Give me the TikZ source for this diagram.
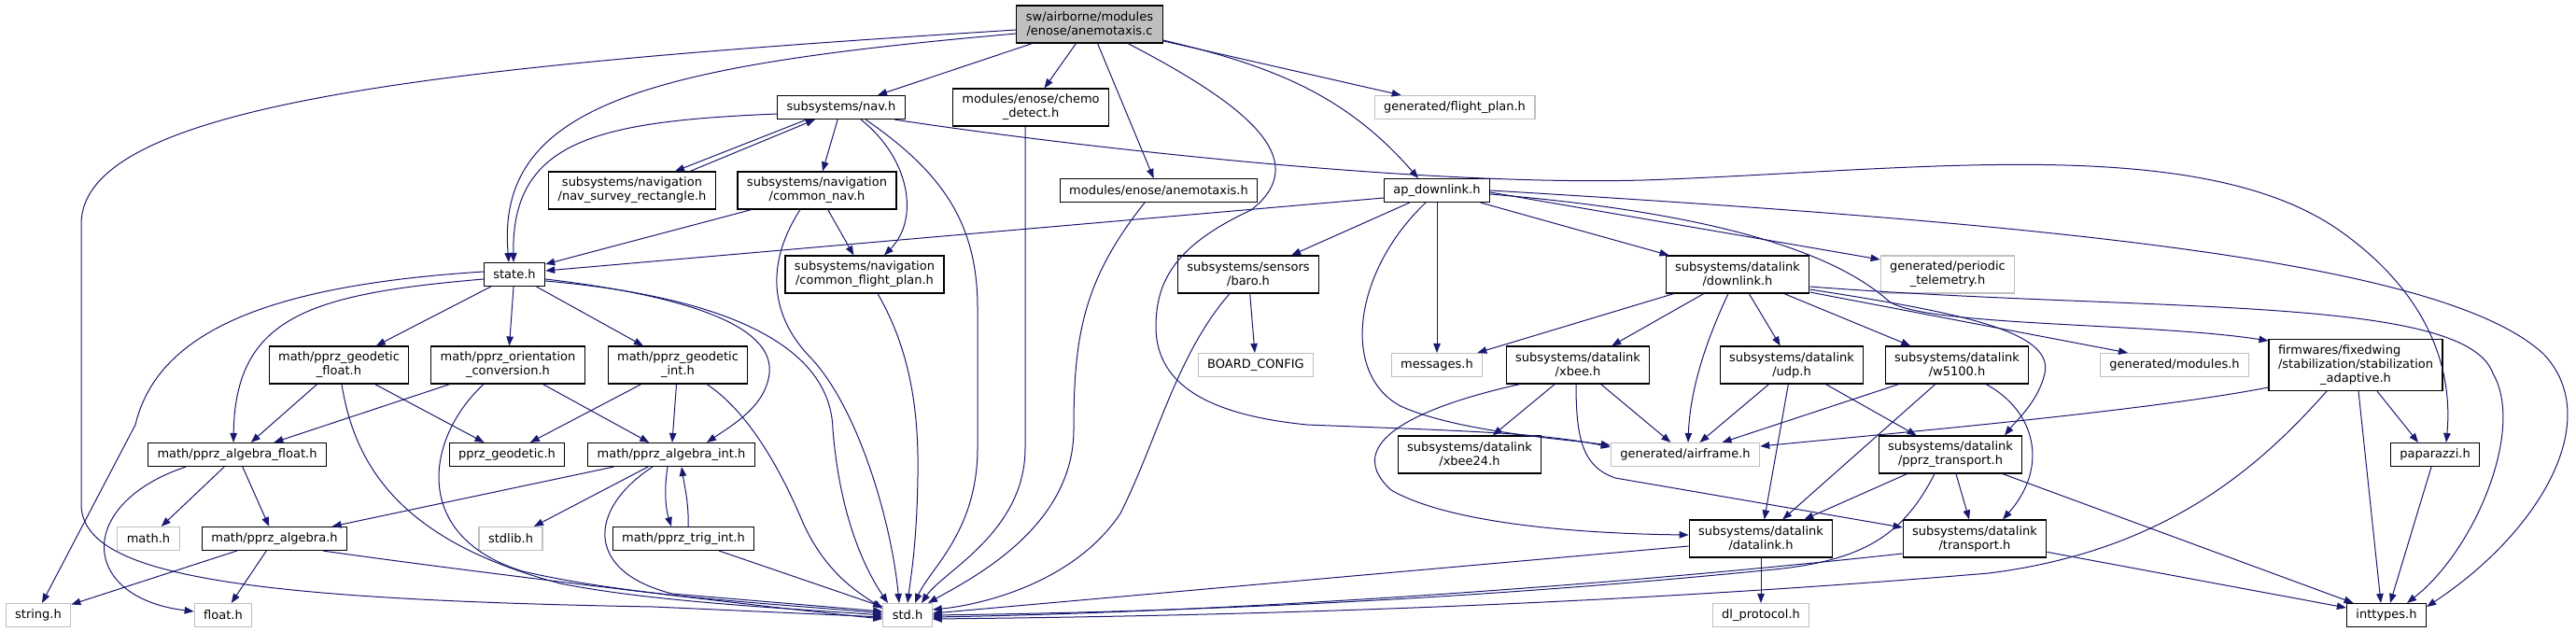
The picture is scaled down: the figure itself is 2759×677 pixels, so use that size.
\documentclass[tikz,border=0pt]{standalone}
\usepackage{fontspec}
\setmainfont{DejaVu Sans}
\usetikzlibrary{arrows.meta}
\definecolor{IncBlue}{RGB}{25,25,112}
\definecolor{IncGray}{RGB}{191,191,191}
\tikzset{
  inc/box/.style={
    draw=black,
    line width=1.1pt,
    fill=white,
    align=center,
    text=black,
    minimum height=25pt,
    inner xsep=10pt,
    inner ysep=2pt,
    font=\fontsize{13}{15}\selectfont
  },
  inc/two/.style={minimum height=40pt},
  inc/three/.style={minimum height=55pt},
  inc/ext/.style={inc/box, draw=IncGray},
  inc/root/.style={inc/box, fill=IncGray},
  inc/arrow/.style={-{Triangle[length=10pt,width=7.5pt]}, line width=1pt, draw=IncBlue}
}

\begin{document}
\begin{tikzpicture}[x=1pt,y=-1pt]
  \useasboundingbox (0,0) rectangle (2759,677);
  \node[inc/root,inc/two] (root) at (1167,26) {sw/airborne/modules\\/enose/anemotaxis.c};
  \node[inc/box] (nav) at (901,115) {subsystems/nav.h};
  \node[inc/box,inc/two] (chemo) at (1104,115) {modules/enose/chemo\\\_detect.h};
  \node[inc/ext] (flightplan) at (1558,115) {generated/flight\_plan.h};
  \node[inc/box,inc/two] (survey) at (677,204) {subsystems/navigation\\/nav\_survey\_rectangle.h};
  \node[inc/box,inc/two] (cnav) at (875,204) {subsystems/navigation\\/common\_nav.h};
  \node[inc/box] (anemh) at (1241,204) {modules/enose/anemotaxis.h};
  \node[inc/box] (apdl) at (1539,204) {ap\_downlink.h};
  \node[inc/box] (state) at (551,294) {state.h};
  \node[inc/box,inc/two] (cfp) at (926,294) {subsystems/navigation\\/common\_flight\_plan.h};
  \node[inc/box,inc/two] (baro) at (1337,294) {subsystems/sensors\\/baro.h};
  \node[inc/box,inc/two] (downlink) at (1861,294) {subsystems/datalink\\/downlink.h};
  \node[inc/ext,inc/two] (periodic) at (2086,294) {generated/periodic\\\_telemetry.h};
  \node[inc/box,inc/two] (geofloat) at (363,391) {math/pprz\_geodetic\\\_float.h};
  \node[inc/box,inc/two] (orient) at (544,391) {math/pprz\_orientation\\\_conversion.h};
  \node[inc/box,inc/two] (geoint) at (726,391) {math/pprz\_geodetic\\\_int.h};
  \node[inc/ext] (boardcfg) at (1345,391) {BOARD\_CONFIG};
  \node[inc/ext] (messages) at (1539,391) {messages.h};
  \node[inc/box,inc/two] (xbee) at (1690,391) {subsystems/datalink\\/xbee.h};
  \node[inc/box,inc/two] (udp) at (1919,391) {subsystems/datalink\\/udp.h};
  \node[inc/box,inc/two] (wiznet) at (2096,391) {subsystems/datalink\\/w5100.h};
  \node[inc/ext] (modules) at (2329,391) {generated/modules.h};
  \node[inc/box,inc/three] (stab) at (2523,391) {\rlap{firmwares/fixedwing}\phantom{/stabilization/stabilization}\\/stabilization/stabilization\\\_adaptive.h};
  \node[inc/box] (algfloat) at (254,487) {math/pprz\_algebra\_float.h};
  \node[inc/box] (geodetic) at (543,487) {pprz\_geodetic.h};
  \node[inc/box] (algint) at (719,487) {math/pprz\_algebra\_int.h};
  \node[inc/box,inc/two] (xbeetwo) at (1574,487) {subsystems/datalink\\/xbee24.h};
  \node[inc/ext] (airframe) at (1805,487) {generated/airframe.h};
  \node[inc/box,inc/two] (pprztp) at (2089,487) {subsystems/datalink\\/pprz\_transport.h};
  \node[inc/box] (paparazzi) at (2608,487) {paparazzi.h};
  \node[inc/ext] (mathh) at (159,577) {math.h};
  \node[inc/box] (algebra) at (294,577) {math/pprz\_algebra.h};
  \node[inc/ext] (stdlib) at (547,577) {stdlib.h};
  \node[inc/box] (trig) at (732,577) {math/pprz\_trig\_int.h};
  \node[inc/box,inc/two] (datalink) at (1886,577) {subsystems/datalink\\/datalink.h};
  \node[inc/box,inc/two] (transport) at (2115,577) {subsystems/datalink\\/transport.h};
  \node[inc/ext] (stringh) at (41,659) {string.h};
  \node[inc/ext] (floath) at (239,659) {float.h};
  \node[inc/ext] (stdh) at (972,659) {std.h};
  \node[inc/ext] (dlproto) at (1886,659) {dl\_protocol.h};
  \node[inc/box] (inttypes) at (2556,659) {inttypes.h};

  \draw[inc/arrow] ([yshift=-6pt]root.west) .. controls (480,70) and (87,110) .. (87,240) -- (87,540) .. controls (87,615) and (250,642) .. (700,650) -- ([yshift=-2pt]stdh.west);
  \draw[inc/arrow] ([yshift=-10pt]root.west) .. controls (700,70) and (530,110) .. ([xshift=-6pt]state.north);
  \draw[inc/arrow] (root) -- (nav);
  \draw[inc/arrow] (root) -- (chemo);
  \draw[inc/arrow] (root) -- (anemh);
  \draw[inc/arrow] (root) -- (flightplan);
  \draw[inc/arrow] ([yshift=-17pt]root.east) .. controls (1360,70) and (1440,100) .. ([xshift=-20pt]apdl.north);
  \draw[inc/arrow] ([xshift=41pt]root.south) .. controls (1330,110) and (1410,170) .. (1340,225) .. controls (1260,262) and (1238,300) .. (1238,350) .. controls (1238,415) and (1300,445) .. (1400,455) .. controls (1550,461) and (1650,463) .. ([yshift=8pt]airframe.west);

  \draw[inc/arrow] ([yshift=-7pt]nav.west) .. controls (640,130) and (548,150) .. ([xshift=-1pt]state.north);
  \draw[inc/arrow] ([xshift=-37pt]nav.south) -- ([xshift=46pt]survey.north);
  \draw[inc/arrow] ([xshift=62pt]survey.north) -- ([xshift=-28pt]nav.south);
  \draw[inc/arrow] (nav) -- (cnav);
  \draw[inc/arrow] ([xshift=21pt]nav.south) .. controls (975,170) and (985,235) .. ([xshift=21pt]cfp.north);
  \draw[inc/arrow] ([xshift=26pt]nav.south) .. controls (1010,185) and (1047,240) .. (1047,330) -- (1047,480) .. controls (1047,570) and (995,610) .. ([xshift=8pt]stdh.north);
  \draw[inc/arrow] ([xshift=57pt]nav.south) .. controls (1100,150) and (1500,200) .. (1760,193) .. controls (2050,183) and (2360,140) .. (2510,250) .. controls (2620,330) and (2625,420) .. ([xshift=12pt]paparazzi.north);

  \draw[inc/arrow] (state) -- (geofloat);
  \draw[inc/arrow] (state) -- (orient);
  \draw[inc/arrow] (state) -- (geoint);
  \draw[inc/arrow] ([yshift=3pt]state.west) .. controls (300,305) and (170,350) .. (145,455) -- ([xshift=4pt]stringh.north);
  \draw[inc/arrow] ([yshift=-5pt]state.west) .. controls (330,315) and (252,340) .. ([xshift=-4pt]algfloat.north);
  \draw[inc/arrow] ([yshift=-5pt]state.east) .. controls (720,315) and (830,345) .. (824,400) .. controls (820,435) and (785,455) .. ([xshift=38pt]algint.north);
  \draw[inc/arrow] ([yshift=-7pt]state.east) .. controls (800,320) and (890,380) .. (892,460) .. controls (900,560) and (930,615) .. ([xshift=-21pt]stdh.north);

  \draw[inc/arrow] ([xshift=-70pt]cnav.south) -- ([yshift=11pt]state.east);
  \draw[inc/arrow] (cnav) -- (cfp);
  \draw[inc/arrow] ([xshift=-18pt]cnav.south) .. controls (815,290) and (830,345) .. (870,385) .. controls (920,440) and (955,560) .. ([xshift=-9pt]stdh.north);
  \draw[inc/arrow] ([xshift=14pt]cfp.south) .. controls (978,380) and (984,450) .. (983,510) .. controls (982,580) and (976,615) .. (stdh.north);
  \draw[inc/arrow] ([xshift=-6pt]chemo.south) -- (1098,480) .. controls (1098,570) and (1010,612) .. ([xshift=15pt]stdh.north);
  \draw[inc/arrow] ([xshift=-15pt]anemh.south) .. controls (1160,300) and (1150,360) .. (1150,460) .. controls (1150,565) and (1040,620) .. ([xshift=22pt]stdh.north);
  \draw[inc/arrow] (baro) -- (boardcfg);
  \draw[inc/arrow] ([xshift=-20pt]baro.south) .. controls (1260,380) and (1240,470) .. (1200,550) .. controls (1150,625) and (1050,648) .. ([yshift=6pt]stdh.east);

  \draw[inc/arrow] ([yshift=-8pt]apdl.west) -- ([yshift=4pt]state.east);
  \draw[inc/arrow] (apdl) -- (baro);
  \draw[inc/arrow] (apdl) -- (messages);
  \draw[inc/arrow] (apdl) -- (downlink);
  \draw[inc/arrow] ([yshift=-2pt]apdl.east) -- ([yshift=16pt]periodic.west);
  \draw[inc/arrow] ([xshift=-12pt]apdl.south) .. controls (1450,290) and (1435,400) .. (1500,435) .. controls (1560,462) and (1670,470) .. ([yshift=10pt]airframe.west);
  \draw[inc/arrow] ([yshift=-4pt]apdl.east) .. controls (1800,225) and (1950,260) .. (2020,320) .. controls (2045,350) and (2300,345) .. ([yshift=26pt]stab.west);
  \draw[inc/arrow] (apdl.east) .. controls (2200,240) and (2620,280) .. (2725,380) .. controls (2790,450) and (2720,570) .. ([yshift=9pt]inttypes.east);

  \draw[inc/arrow] (downlink) -- (messages);
  \draw[inc/arrow] (downlink) -- (xbee);
  \draw[inc/arrow] (downlink) -- (udp);
  \draw[inc/arrow] (downlink) -- (wiznet);
  \draw[inc/arrow] ([xshift=-10pt]downlink.south) .. controls (1825,370) and (1810,420) .. ([xshift=3pt]airframe.north);
  \draw[inc/arrow] ([yshift=-19pt]downlink.east) -- ([xshift=-50pt]modules.north);
  \draw[inc/arrow] ([yshift=-16pt]downlink.east) .. controls (2100,335) and (2200,355) .. (2190,400) .. controls (2183,430) and (2160,450) .. ([xshift=58pt]pprztp.north);
  \draw[inc/arrow] ([yshift=-13pt]downlink.east) .. controls (2300,335) and (2640,315) .. (2670,400) .. controls (2705,460) and (2650,590) .. ([xshift=22pt]inttypes.north);

  \draw[inc/arrow] (xbee) -- (xbeetwo);
  \draw[inc/arrow] (xbee) -- (airframe);
  \draw[inc/arrow] ([xshift=-62pt]xbee.south) .. controls (1500,440) and (1440,480) .. (1490,525) .. controls (1560,565) and (1720,572) .. ([yshift=4pt]datalink.west);
  \draw[inc/arrow] ([xshift=-2pt]xbee.south) .. controls (1688,470) and (1695,500) .. (1730,512) -- ([yshift=12pt]transport.west);
  \draw[inc/arrow] (udp) -- (airframe);
  \draw[inc/arrow] (udp) -- (datalink);
  \draw[inc/arrow] (udp) -- (pprztp);
  \draw[inc/arrow] (wiznet) -- (airframe);
  \draw[inc/arrow] (wiznet) -- (datalink);
  \draw[inc/arrow] ([xshift=31pt]wiznet.south) .. controls (2180,440) and (2195,500) .. ([xshift=30pt]transport.north);

  \draw[inc/arrow] ([yshift=-24pt]stab.west) .. controls (2300,440) and (2050,462) .. ([yshift=9pt]airframe.east);
  \draw[inc/arrow] ([xshift=-31pt]stab.south) .. controls (2420,500) and (2320,590) .. (2130,614) .. controls (1700,650) and (1300,660) .. ([yshift=-4pt]stdh.east);
  \draw[inc/arrow] ([xshift=3pt]stab.south) -- ([xshift=-6pt]inttypes.north);
  \draw[inc/arrow] ([xshift=23pt]stab.south) -- ([xshift=-18pt]paparazzi.north);
  \draw[inc/arrow] (paparazzi) -- (inttypes);

  \draw[inc/arrow] (pprztp) -- (datalink);
  \draw[inc/arrow] (pprztp) -- (transport);
  \draw[inc/arrow] (pprztp) -- (inttypes);
  \draw[inc/arrow] ([xshift=-17pt]pprztp.south) .. controls (2040,570) and (2000,600) .. (1900,610) .. controls (1600,640) and (1300,655) .. (stdh.east);
  \draw[inc/arrow] (transport) -- (inttypes);
  \draw[inc/arrow] ([yshift=-16pt]transport.west) .. controls (1700,630) and (1300,656) .. ([yshift=-2pt]stdh.east);
  \draw[inc/arrow] (datalink) -- (dlproto);
  \draw[inc/arrow] ([yshift=-8pt]datalink.west) -- ([yshift=2pt]stdh.east);

  \draw[inc/arrow] (geofloat) -- (algfloat);
  \draw[inc/arrow] (geofloat) -- (geodetic);
  \draw[inc/arrow] ([xshift=3pt]geofloat.south) .. controls (380,500) and (430,580) .. (600,625) .. controls (700,645) and (850,652) .. (stdh.west);
  \draw[inc/arrow] (orient) -- (algfloat);
  \draw[inc/arrow] (orient) -- (algint);
  \draw[inc/arrow] ([xshift=-26pt]orient.south) .. controls (455,470) and (440,575) .. (560,612) .. controls (680,640) and (850,648) .. ([yshift=2pt]stdh.west);
  \draw[inc/arrow] (geoint) -- (geodetic);
  \draw[inc/arrow] (geoint) -- (algint);
  \draw[inc/arrow] ([xshift=31pt]geoint.south) .. controls (800,440) and (835,500) .. (860,560) .. controls (885,615) and (920,635) .. ([yshift=7pt]stdh.west);

  \draw[inc/arrow] (algfloat) -- (mathh);
  \draw[inc/arrow] (algfloat) -- (algebra);
  \draw[inc/arrow] ([xshift=-55pt]algfloat.south) .. controls (80,540) and (85,640) .. ([yshift=4pt]floath.west);
  \draw[inc/arrow] (algebra) -- (stringh);
  \draw[inc/arrow] (algebra) -- (floath);
  \draw[inc/arrow] ([xshift=52pt]algebra.south) .. controls (500,612) and (800,648) .. ([yshift=-4pt]stdh.west);
  \draw[inc/arrow] (algint) -- (algebra);
  \draw[inc/arrow] (algint) -- (stdlib);
  \draw[inc/arrow] ([xshift=-4pt]algint.south) .. controls (711,525) and (713,545) .. ([xshift=-13pt]trig.north);
  \draw[inc/arrow] ([xshift=5pt]trig.north) .. controls (738,540) and (733,520) .. ([xshift=11pt]algint.south);
  \draw[inc/arrow] ([xshift=-20pt]algint.south) .. controls (630,545) and (625,612) .. (720,636) -- ([yshift=4pt]stdh.west);
  \draw[inc/arrow] (trig) -- ([yshift=9pt]stdh.west);
\end{tikzpicture}
\end{document}
